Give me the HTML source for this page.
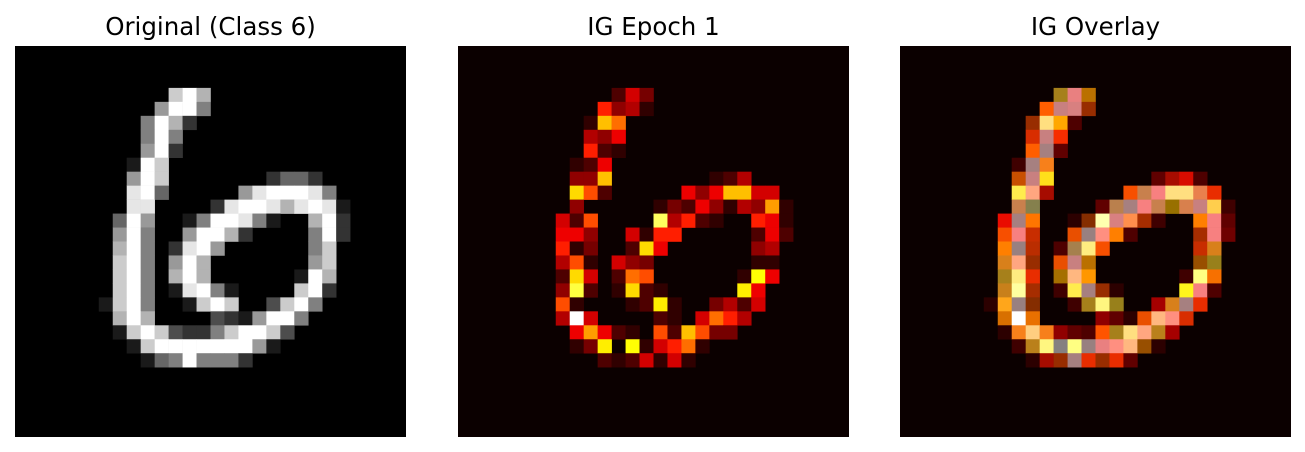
<!DOCTYPE html>
<html><head><meta charset="utf-8">
<style>
body{margin:0;background:#fff;width:1305px;height:452px;overflow:hidden;font-family:"DejaVu Sans","Liberation Sans",sans-serif;}
svg{position:absolute;left:0;top:0}
.t{font-family:"DejaVu Sans",sans-serif;font-size:24.5px;}
</style></head>
<body>
<svg id="fig" width="1305" height="452" viewBox="0 0 1305 452" xmlns="http://www.w3.org/2000/svg">
<text class="t" x="210.5" y="35" text-anchor="middle" fill="#000">Original (Class 6)</text>
<text class="t" x="653.5" y="35" text-anchor="middle" fill="#000">IG Epoch 1</text>
<text class="t" x="1095.5" y="35" text-anchor="middle" fill="#000">IG Overlay</text>
</svg>
<script>
// Grid rows 2..22, columns 5..24 (others are zero)
const origRows = [
"",
"......8W7",
".....6WW5",
"....5W72",
"....5W5",
"....6W2",
"...1W8",
"...6W8.......2442",
"...9W4.....69WWW95",
"...99....29WW979W91",
"..4W6..15WW951..7W2",
"..6W5..6WW72....5W2",
"..7W5.29W6......58",
"..8W5.6W7.......68",
"..8W5.7W7......1W7",
"..8W5.19W51....8W2",
".18W5..18W8..38W5",
"..7W7....3216WW5",
"..18W832258WW83",
"...18WWWWWWW61",
"....145W5552",
""
];
const igRows = [
"",
"......bfc",
".....hdea",
"....alj",
"....edg",
"....hba",
"...abg",
"...ddl.......abe",
"...mib.....gdgllff",
"...d.....acbgdaedka",
"..fbi....qehba..hga",
"..ggd..fahh.....bgb",
"..hac..bmg......de",
"..eia.fdc.......aa",
"..bmf.bji......aog",
"..dpb.amba.....ng",
"..ia...abna..cebf",
"..eWf....ba.fjhe",
"...gkgba.iblicc",
"...acn.oafhja",
".....babfafa",
""
];
const origCodes = {'.':0,'1':0.1,'2':0.2,'3':0.3,'4':0.4,'5':0.5,'6':0.6,'7':0.7,'8':0.8,'9':0.9,'W':1};
const igCodes = {'.':0,a:0.056,b:0.1,c:0.16,d:0.2,e:0.25,f:0.3,g:0.34,h:0.41,i:0.48,j:0.53,k:0.6,l:0.65,m:0.69,n:0.72,o:0.75,p:0.81,q:0.84,W:1};
const ROW0 = 2, COL0 = 5, N = 28;
const panels = [15, 458, 900], PY = 46, PS = 391;

function clamp(v){return Math.max(0,Math.min(1,v));}
function hot(v){return [clamp(0.0416+v*2.625), clamp((v-0.365)/0.381), clamp((v-0.746)/0.254)];}
function gray(v){return [v,v,v];}
function hex(c){return 'rgb('+c.map(x=>Math.round(x*255)).join(',')+')';}
function grid(rows, codes){
  const g=[];for(let r=0;r<N;r++){g.push(new Array(N).fill(0));}
  rows.forEach((s,i)=>{for(let j=0;j<s.length;j++){g[ROW0+i][COL0+j]=codes[s[j]]||0;}});
  return g;
}
const orig = grid(origRows, origCodes), ig = grid(igRows, igCodes);
const svg = document.getElementById('fig');
const NS='http://www.w3.org/2000/svg';
const cs = PS/N;
function xScale(p,c){return panels[p]+c*cs;}
function yScale(r){return PY+r*cs;}
const names=['original-image','ig-heatmap','ig-overlay'];
for(let p=0;p<3;p++){
  const g=document.createElementNS(NS,'g');
  
  
  const bg=document.createElementNS(NS,'rect');
  
  
  bg.setAttribute('x',panels[p]);bg.setAttribute('y',PY);bg.setAttribute('width',PS);bg.setAttribute('height',PS);
  bg.setAttribute('fill', p===0?'#000':hex(hot(0)));
  g.appendChild(bg);
  for(let r=0;r<N;r++)for(let c=0;c<N;c++){
    const o=orig[r][c], v=ig[r][c];
    let col;
    if(p===0){ if(o===0) continue; col=gray(o);}
    else if(p===1){ if(v===0) continue; col=hot(v);}
    else { if(o===0&&v===0) continue; const a=hot(o),b=hot(v); col=[(a[0]+b[0])/2,(a[1]+b[1])/2,(a[2]+b[2])/2]; }
    const rc=document.createElementNS(NS,'rect');
    
    
    rc.setAttribute('x',xScale(p,c).toFixed(2));rc.setAttribute('y',yScale(r).toFixed(2));
    rc.setAttribute('width',(cs+0.3).toFixed(2));rc.setAttribute('height',(cs+0.3).toFixed(2));
    rc.setAttribute('fill',hex(col));
    g.appendChild(rc);
  }
  svg.appendChild(g);
}
</script>
</body></html>
